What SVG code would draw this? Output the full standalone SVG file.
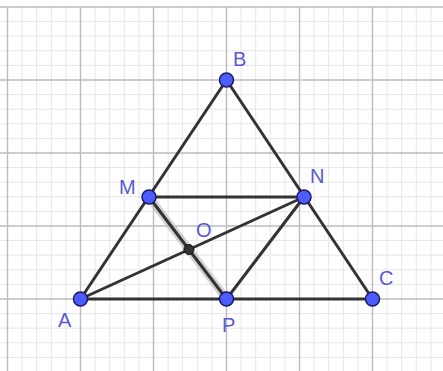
<svg xmlns="http://www.w3.org/2000/svg" width="443" height="371" viewBox="0 0 443 371">
<style>
.minor{stroke:#e6e6e6;stroke-width:1;fill:none}
.major{stroke:#bcbcbc;stroke-width:1.4;fill:none}
.seg{stroke:#333333;stroke-width:3;stroke-linecap:round;fill:none}
.pt{fill:#4d5cff;stroke:#1a1a66;stroke-width:1.5}
.lbl{font-family:"Liberation Sans",Arial,sans-serif;font-size:20px;fill:#5a5ad2}
</style>
<rect width="443" height="371" fill="#ffffff"/>
<g id="grid">
<path class="minor" d="M22.1 7V371M36.7 7V371M51.3 7V371M65.9 7V371M95.1 7V371M109.7 7V371M124.3 7V371M138.9 7V371M168.1 7V371M182.7 7V371M197.3 7V371M211.9 7V371M241.1 7V371M255.7 7V371M270.3 7V371M284.9 7V371M314.1 7V371M328.7 7V371M343.3 7V371M357.9 7V371M387.1 7V371M401.7 7V371M416.3 7V371M430.9 7V371M0 21.6H443M0 36.2H443M0 50.8H443M0 65.4H443M0 94.6H443M0 109.2H443M0 123.8H443M0 138.4H443M0 167.6H443M0 182.2H443M0 196.8H443M0 211.4H443M0 240.6H443M0 255.2H443M0 269.8H443M0 284.4H443M0 313.6H443M0 328.2H443M0 342.8H443M0 357.4H443"/>
<path class="major" d="M7.5 7V371M80.5 7V371M153.5 7V371M226.5 7V371M299.5 7V371M372.5 7V371M0 7H443M0 80H443M0 153H443M0 226H443M0 299H443"/>
</g>
<g id="connectors">
<line x1="149" y1="197" x2="226.5" y2="299" stroke="#bdbdbd" stroke-width="8" stroke-opacity="0.7" stroke-linecap="round"/>
<line class="seg" x1="80.5" y1="299" x2="226.5" y2="80"/>
<line class="seg" x1="226.5" y1="80" x2="372.5" y2="299"/>
<line class="seg" x1="80.5" y1="299" x2="372.5" y2="299"/>
<line class="seg" x1="149" y1="197" x2="304" y2="197"/>
<line class="seg" x1="149" y1="197" x2="226.5" y2="299"/>
<line class="seg" x1="304" y1="197" x2="226.5" y2="299"/>
<line class="seg" x1="80.5" y1="299" x2="304" y2="197"/>
</g>
<g id="node-O"><circle cx="188.9" cy="249.5" r="5" fill="#333333" stroke="#111111" stroke-width="1"/><text class="lbl" x="196" y="237">O</text></g>
<g id="node-A"><circle class="pt" cx="80.5" cy="299" r="7"/><text class="lbl" x="58" y="327">A</text></g>
<g id="node-B"><circle class="pt" cx="226.5" cy="80" r="7"/><text class="lbl" x="233" y="66">B</text></g>
<g id="node-C"><circle class="pt" cx="372.5" cy="299" r="7"/><text class="lbl" x="379" y="285">C</text></g>
<g id="node-M"><circle class="pt" cx="149" cy="197" r="7"/><text class="lbl" x="119" y="194">M</text></g>
<g id="node-N"><circle class="pt" cx="304" cy="197" r="7"/><text class="lbl" x="310" y="183">N</text></g>
<g id="node-P"><circle class="pt" cx="226.5" cy="299" r="7"/><text class="lbl" x="222" y="332">P</text></g>
</svg>
